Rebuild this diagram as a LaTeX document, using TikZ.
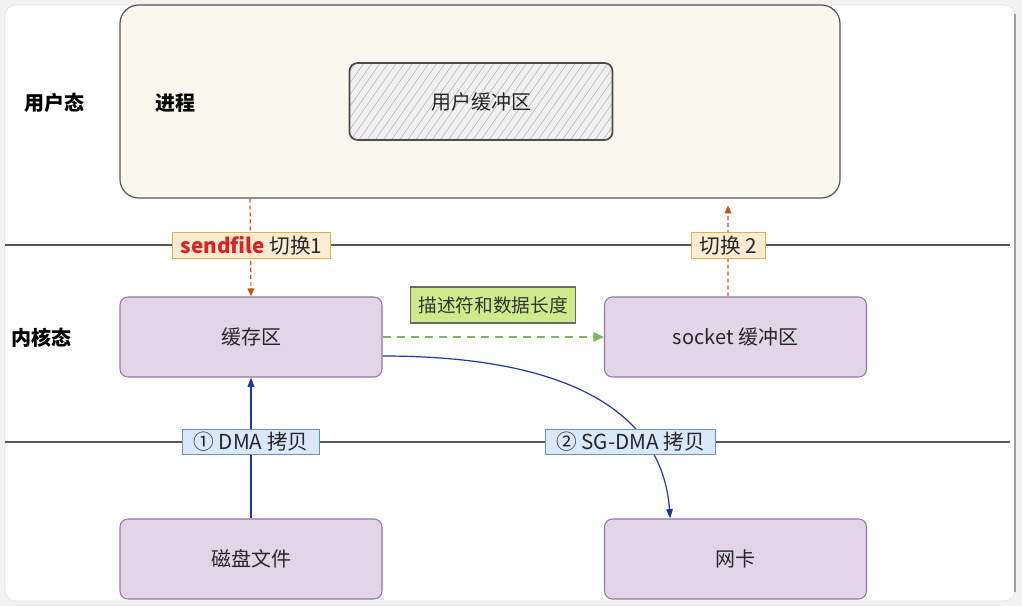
\documentclass[tikz,border=0pt]{standalone}
\usepackage{fontspec}
\newfontfamily\cjk{Noto Sans CJK SC}
\usetikzlibrary{patterns.meta,arrows.meta}
\definecolor{kfill}{HTML}{E1D5E7}
\definecolor{kdraw}{HTML}{9673A6}
\definecolor{pfill}{HTML}{F9F7EE}
\definecolor{pdraw}{HTML}{555555}
\definecolor{ofill}{HTML}{FDEBD3}
\definecolor{odraw}{HTML}{DDB050}
\definecolor{bfill}{HTML}{DAE8FC}
\definecolor{bdraw}{HTML}{6C8EBF}
\definecolor{gfill}{HTML}{CDEB8B}
\definecolor{gdraw}{HTML}{6A6A6A}
\definecolor{garrow}{HTML}{82B366}
\definecolor{oarrow}{HTML}{C4541C}
\definecolor{barrow}{HTML}{1F35A8}
\definecolor{sendred}{HTML}{E02020}
\tikzset{
  txt/.style={font=\cjk\fontsize{15}{18}\selectfont, text=black!85},
  boldtxt/.style={font=\cjk\bfseries\fontsize{15}{18}\selectfont, text=black},
  kbox/.style={txt, draw=kdraw, fill=kfill, line width=0.8pt, rounded corners=6pt,
    minimum width=196.5pt, minimum height=60pt},
  procbox/.style={draw=pdraw, fill=pfill, line width=0.9pt, rounded corners=14pt,
    minimum width=540pt, minimum height=144.75pt},
  hatchbox/.style={txt, draw=gray!60!black, line width=1.3pt, rounded corners=6pt,
    preaction={fill=gray!12},
    pattern={Lines[angle=55,distance=5pt,line width=0.4pt]}, pattern color=gray!65,
    minimum width=197.25pt, minimum height=57.75pt},
  lbl/.style={font=\cjk\fontsize{15.5}{18}\selectfont, text=black!85, line width=0.8pt,
    inner ysep=0pt, minimum height=19pt},
  olabel/.style={lbl, draw=odraw, fill=ofill, inner xsep=6pt},
  blabel/.style={lbl, draw=bdraw, fill=bfill, inner xsep=8pt},
  glabel/.style={font=\cjk\fontsize{14}{16}\selectfont, text=black!80, draw=gdraw, fill=gfill,
    line width=0.8pt, inner xsep=6pt, inner ysep=0pt, minimum height=27pt},
  sepline/.style={draw=pdraw, line width=1.2pt},
  oarr/.style={draw=oarrow, line width=0.9pt, dash pattern=on 3pt off 2.2pt, -{Triangle[length=6pt,width=5pt]}},
  barr/.style={draw=barrow, line width=0.9pt, -{Triangle[length=7pt,width=5pt]}},
  garr/.style={draw=garrow, line width=1.8pt, dash pattern=on 6pt off 4.5pt, -{Triangle[length=8pt,width=7pt]}},
}
\begin{document}
\begin{tikzpicture}[x=0.75pt,y=-0.75pt]
  % background and card
  \fill[gray!10] (0,0) rectangle (1022,606);
  \fill[white, draw=gray!25, rounded corners=8pt] (5,5) rectangle (1015,601);
  \draw[gray!75, line width=1.5pt] (1015,14) -- (1015,592);

  % separator lines
  \coordinate (s1a) at (5,245);  \coordinate (s1b) at (1010,245);
  \coordinate (s2a) at (5,442);  \coordinate (s2b) at (1010,442);
  \draw[sepline] (s1a) -- (s1b);
  \draw[sepline] (s2a) -- (s2b);

  % user space
  \node[procbox] (proc) at (480,101.5) {};
  \node[hatchbox] (ubuf) at (481,101.5) {用户缓冲区};
  \node[boldtxt] (userlbl) at (55,103) {用户态};
  \node[boldtxt] (proclbl) at (175,103) {进程};

  % kernel
  \node[boldtxt] (kernlbl) at (42,338) {内核态};
  \node[kbox] (cache) at (251,337) {缓存区};
  \node[kbox] (sock) at (735.5,337) {socket 缓冲区};

  % hardware
  \node[kbox] (disk) at (251,559) {磁盘文件};
  \node[kbox] (nic) at (735.5,559) {网卡};

  % connectors
  \draw[oarr] ([xshift=-172.5pt]proc.south) -- (cache.north);
  \draw[oarr, shorten >=5pt] ([xshift=-5.6pt]sock.north) -- ([xshift=186pt]proc.south);
  \draw[garr] (cache.east) -- (sock.west);
  \draw[barr] (disk.north) -- (cache.south);
  \draw[barr] ([yshift=-14.25pt]cache.east) .. controls +(180,0) and +(-8,-110) .. ([xshift=-49pt]nic.north);

  % labels
  \node[olabel] (sw1) at (251.5,245.5) {{\bfseries\color{sendred}sendfile} 切换1};
  \node[olabel] (sw2) at (728.5,245.5) {切换 2};
  \node[glabel] (desc) at (493,305) {描述符和数据长度};
  \node[blabel] (dma) at (251,442) {① DMA 拷贝};
  \node[blabel] (sgdma) at (630.5,442) {② SG-DMA 拷贝};
\end{tikzpicture}
\end{document}
